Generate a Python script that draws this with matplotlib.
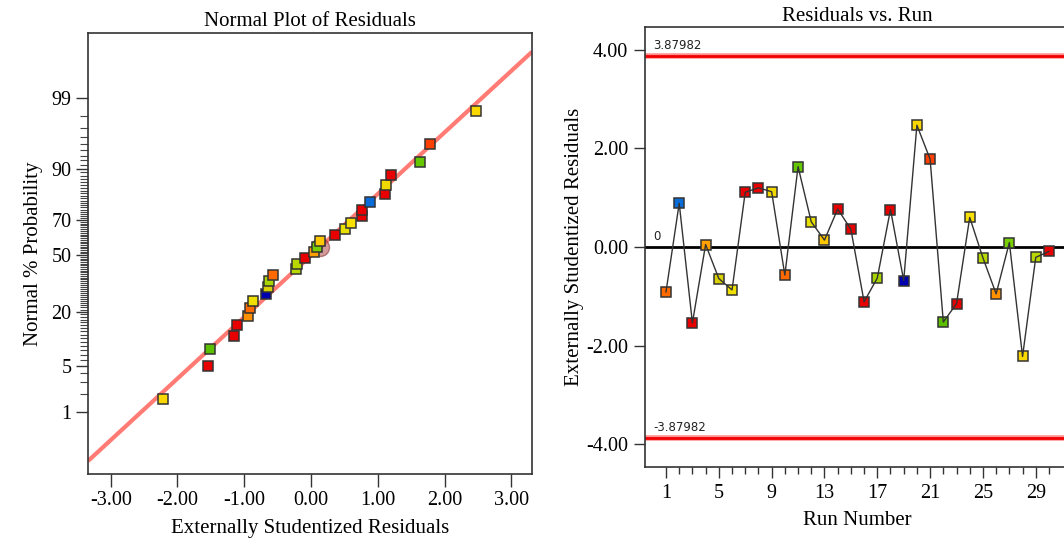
import numpy as np
import matplotlib.pyplot as plt
from statistics import NormalDist

# externally studentized residuals, in run order
runs = list(range(1, 31))
residuals = [-0.91, 0.885, -1.54, 0.05, -0.64, -0.87, 1.11, 1.20, 1.12, -0.57,
             1.63, 0.51, 0.14, 0.77, 0.36, -1.11, -0.63, 0.76, -0.68, 2.47,
             1.78, -1.52, -1.15, 0.60, -0.22, -0.95, 0.09, -2.22, -0.21, -0.09]
point_colors = ['#FF6A00', '#0A6CD8', '#E80000', '#FFA000', '#D8D000', '#F0E000',
                '#E80000', '#E80000', '#F0D800', '#FF6A00', '#66C800', '#E8E000',
                '#FFC800', '#E80000', '#E80000', '#E80000', '#A8D400', '#E80000',
                '#0000B0', '#F8D800', '#FF4000', '#5CC000', '#E80000', '#F8E000',
                '#B8D800', '#FF9000', '#78D000', '#F8D800', '#B8D800', '#E80000']
limit = 3.87982
highlight_run = 13

prob_labels = [1, 5, 20, 50, 70, 90, 99]
x_ticks = [-3, -2, -1, 0, 1, 2, 3]
run_labels = [1, 5, 9, 13, 17, 21, 25, 29]
res_ticks = [-4, -2, 0, 2, 4]

nd = NormalDist()
serif = 'Liberation Serif'
plt.rcParams['font.family'] = serif

fig = plt.figure(figsize=(10.64, 5.39), dpi=100)

# ---- normal probability plot ----
ax1 = fig.add_axes([0.0827, 0.1206, 0.4173, 0.8182])
res = np.array(residuals)
order = np.argsort(res, kind='stable')
n = len(res)
pct = (np.arange(1, n + 1) - 0.5) / n
z = np.array([nd.inv_cdf(p) for p in pct])
mu, sd = res.mean(), res.std(ddof=1)

xl = (-3.34, 3.31)
xs = np.array(xl)
ax1.plot(xs, (xs - mu) / sd, color='#FF7B74', lw=3, zorder=2, solid_capstyle='butt')
hx = residuals[highlight_run - 1]
ax1.plot(hx, (hx - mu) / sd, 'o', ms=13, mfc='#B04848', mec='#803030', alpha=0.55, zorder=3)
for k, idx in enumerate(order):
    ax1.plot(res[idx], z[k], 's', ms=7, mfc=point_colors[idx], mec='#333333',
             mew=1.1, zorder=4)

ax1.set_xlim(*xl)
ax1.set_ylim(-3.24, 3.29)
ax1.set_xticks(x_ticks)
ax1.set_xticklabels([f'{v:.2f}' for v in x_ticks])
ax1.set_yticks([nd.inv_cdf(p / 100) for p in prob_labels])
ax1.set_yticklabels([str(p) for p in prob_labels])
minor = [nd.inv_cdf(p / 100) for p in range(1, 100) if p not in prob_labels]
ax1.set_yticks(minor, minor=True)
ax1.tick_params(axis='both', which='major', direction='out', length=9, width=1,
                color='#333333', labelsize=14.5, pad=3)
ax1.tick_params(axis='y', which='minor', direction='out', length=6, width=0.8,
                color='#444444')
ax1.set_title('Normal Plot of Residuals', fontsize=15, pad=5)
ax1.set_xlabel('Externally Studentized Residuals', fontsize=15, labelpad=7)
ax1.set_ylabel('Normal % Probability', fontsize=15, labelpad=6)
for s in ax1.spines.values():
    s.set_color('#333333')
    s.set_linewidth(1.2)

# ---- residuals vs run ----
ax2 = fig.add_axes([0.6062, 0.1336, 0.3994, 0.8163])
for y in (limit, -limit):
    ax2.axhline(y, color='#FF9090', lw=4, zorder=1)
    ax2.axhline(y, color='#F00000', lw=2, zorder=2)
ax2.axhline(0, color='black', lw=2, zorder=2)
for r, v, c in zip(runs, residuals, point_colors):
    ax2.plot(r, v, 's', ms=7, mfc=c, mec='#333333', mew=1.1, zorder=3)
ax2.plot(runs, residuals, color='#333333', lw=1, zorder=4)

ax2.text(0.02, limit + 0.08, f'{limit:g}', fontsize=8.5, family='DejaVu Sans',
         color='#222222', transform=ax2.get_yaxis_transform(), va='bottom')
ax2.text(0.02, -limit + 0.08, f'{-limit:g}', fontsize=8.5, family='DejaVu Sans',
         color='#222222', transform=ax2.get_yaxis_transform(), va='bottom')
ax2.text(0.02, 0.08, '0', fontsize=8.5, family='DejaVu Sans',
         color='#222222', transform=ax2.get_yaxis_transform(), va='bottom')

ax2.set_xlim(-0.59, 31.59)
ax2.set_ylim(-4.46, 4.46)
ax2.set_xticks(run_labels)
ax2.set_xticks(runs, minor=True)
ax2.set_yticks(res_ticks)
ax2.set_yticklabels([f'{v:.2f}' for v in res_ticks])
ax2.tick_params(axis='both', which='major', direction='out', length=8, width=1,
                color='#333333', labelsize=14.5, pad=4)
ax2.tick_params(axis='x', which='minor', direction='out', length=5, width=1,
                color='#333333')
ax2.set_title('Residuals vs. Run', fontsize=15, pad=4)
ax2.set_xlabel('Run Number', fontsize=15, labelpad=6)
ax2.set_ylabel('Externally Studentized Residuals', fontsize=15, labelpad=2)
for s in ax2.spines.values():
    s.set_color('#333333')
    s.set_linewidth(1.2)

fig.savefig('out.png', dpi=100)
